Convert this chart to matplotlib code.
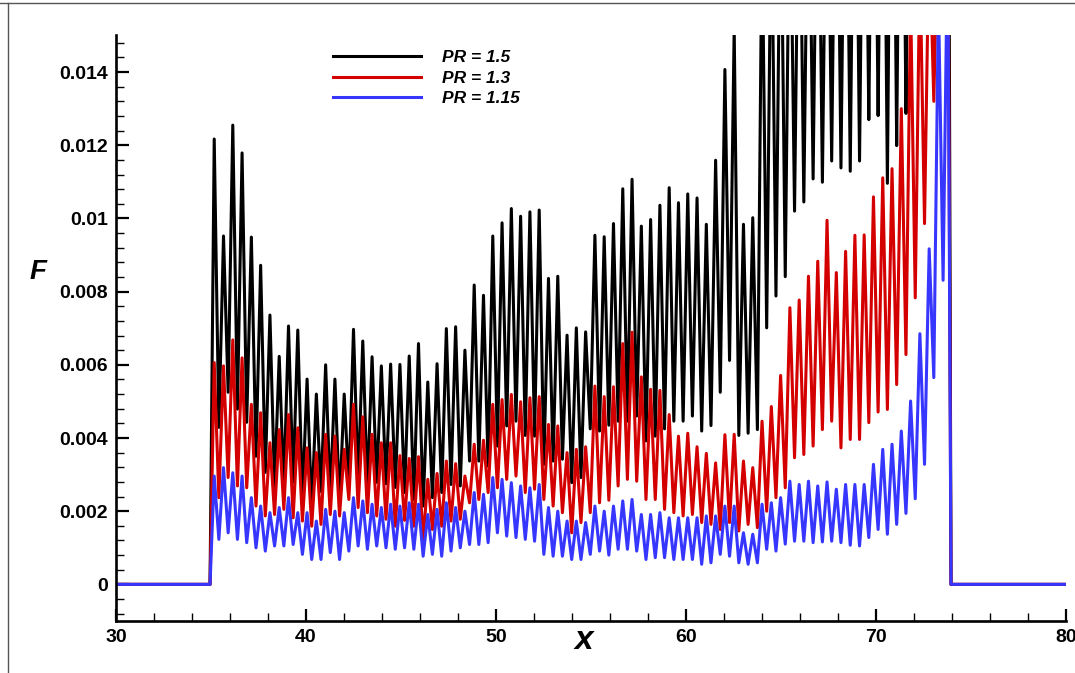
import numpy as np
import matplotlib
matplotlib.use("Agg")
import matplotlib.pyplot as plt
from matplotlib.lines import Line2D
from matplotlib.ticker import MultipleLocator, FuncFormatter

# values, in units of 1e-3
# the three curves oscillate in phase: one peak every ~0.489 in x,
# first peak near x = 35.17; troughs sit halfway between peaks
x_start = 34.95
x_end = 73.95
first_peak = 35.17
period = 0.4887

black_peaks = [12.17, 9.52, 12.55, 11.79, 9.49, 8.72, 7.36, 6.23, 7.06, 6.95,
               5.61, 5.20, 6.00, 5.61, 5.20, 6.97, 6.65, 6.22, 5.97, 6.02,
               6.01, 6.24, 6.58, 5.53, 6.03, 6.99, 7.04, 6.40, 8.18, 7.90,
               9.52, 9.88, 10.27, 10.06, 10.18, 10.23, 8.36, 8.42, 6.81, 7.01,
               6.90, 9.54, 9.50, 9.86,
               10.81, 11.07, 9.79, 9.97, 10.36, 10.84, 10.43, 10.67, 10.56, 9.84,
               11.59, 14.07, 15.2, 9.84, 10.02,
               18, 19, 20, 20, 21, 21, 22, 22, 23, 23,
               24, 24, 25, 25, 26, 26, 27, 27, 28, 28, 29]
black_troughs = [4.29, 5.25, 4.79, 4.43, 3.50, 3.06, 2.68, 2.65, 2.79, 2.32,
                 2.05, 2.54, 2.41, 2.24, 2.70, 2.79, 2.63, 2.79, 2.75, 2.65,
                 2.51, 2.32, 2.14, 2.37, 2.51, 2.73, 2.69, 3.37, 3.37, 3.23,
                 3.78, 4.33, 4.46, 4.07, 4.05, 3.28, 3.37, 3.42, 2.78, 2.92,
                 4.25, 4.19, 4.35,
                 4.46, 4.46, 4.60, 3.92, 4.05, 4.25, 4.46, 4.46, 4.60, 4.19,
                 4.34, 5.25, 6.12, 4.07, 4.13, 4.23, 7.01, 7.88, 8.41,
                 10.20, 10.45, 11.08, 10.99, 11.57, 11.38, 11.29, 11.57, 12.70, 12.81,
                 10.96, 11.99, 12.87,
                 16, 17, 18, 19]

red_peaks = [6.06, 5.97, 6.68, 6.19, 4.92, 4.69, 3.87, 4.23, 4.64, 4.28,
             3.73, 3.60, 4.10, 4.05, 3.69, 4.92, 4.58, 4.10, 3.87, 3.87,
             3.52, 3.44, 3.49, 2.87, 3.03, 3.37, 3.30, 2.96, 3.83, 3.94,
             4.92, 5.05, 5.19, 4.99, 5.10, 5.13, 4.37, 4.33, 3.60, 3.69,
             3.76, 5.42, 5.13, 5.40,
             6.58, 6.89, 5.67, 5.33, 5.30, 4.64, 4.05, 4.13, 3.76, 3.58,
             3.32, 4.09, 4.10, 3.37, 3.19, 4.46, 4.86, 5.71, 7.56,
             7.77, 8.42, 8.83, 9.95, 8.52, 9.10, 9.54, 9.55, 10.59, 11.11,
             11.36, 13.0,
             16, 17, 18, 19, 20]
red_troughs = [2.37, 2.92, 2.69, 2.64, 2.14, 1.87, 1.91, 2.05, 1.82, 1.73,
               1.59, 1.64, 1.91, 1.87, 2.32, 2.10, 1.96, 1.87, 1.78, 1.59,
               1.75, 1.59, 1.23, 1.50, 1.59, 1.73, 1.78, 2.23, 2.32, 2.51,
               2.64, 2.87, 2.96, 2.51, 2.60, 2.32, 2.14, 1.96, 1.41, 1.69,
               1.96, 2.23, 2.30,
               2.69, 2.87, 2.82, 2.32, 2.32, 2.05, 1.96, 1.87, 1.91, 1.69,
               1.64, 1.50, 1.69, 1.46, 1.64, 1.55, 2.00, 2.37, 2.64,
               3.46, 3.55, 3.78, 4.23, 4.46, 3.73, 3.96, 3.96, 4.42, 4.71,
               4.78, 5.46, 6.28, 7.83, 9.86, 13.2, 16]

blue_peaks = [2.96, 3.19, 3.05, 2.96, 2.37, 2.14, 1.96, 2.10, 2.37, 1.96,
              1.96, 1.73, 2.05, 2.00, 1.96, 2.37, 2.28, 2.19, 2.10, 2.19,
              2.14, 2.23, 2.19, 1.91, 2.05, 2.23, 2.10, 2.00, 2.51, 2.46,
              2.92, 2.87, 2.78, 2.69, 2.64, 2.73, 2.10, 2.00, 1.73, 1.73,
              1.69, 2.14, 2.00, 2.14,
              2.28, 2.32, 1.91, 1.91, 1.96, 1.82, 1.82, 1.82, 1.82, 1.87,
              1.87, 2.14, 2.14, 1.41, 1.37, 2.19, 2.23, 2.37, 2.82,
              2.73, 2.82, 2.69, 2.80, 2.60, 2.73, 2.73, 2.73, 3.28, 3.69,
              3.83, 4.19, 5.01, 6.85, 9.17, 16, 18]
blue_troughs = [1.23, 1.41, 1.23, 1.14, 1.00, 0.91, 1.05, 1.05, 1.09, 0.82,
                0.68, 0.68, 0.87, 0.68, 0.91, 1.05, 0.96, 1.05, 1.00, 0.96,
                1.00, 0.96, 0.77, 0.82, 0.77, 0.91, 1.00, 1.09, 1.09, 1.14,
                1.41, 1.32, 1.28, 1.23, 1.18, 0.82, 0.77, 0.77, 0.68, 0.68,
                0.82, 0.91, 0.80,
                0.96, 0.96, 0.91, 0.68, 0.73, 0.73, 0.68, 0.68, 0.68, 0.55,
                0.59, 0.82, 0.77, 0.59, 0.55, 0.59, 0.96, 0.91, 1.10,
                1.18, 1.18, 1.14, 1.16, 1.18, 1.14, 1.07, 1.05, 1.28, 1.50,
                1.37, 1.64, 1.94, 2.34, 3.28, 5.65, 8.31]

labels = ["PR = 1.5", "PR = 1.3", "PR = 1.15"]
colors = ["black", "#d40000", "#3636ff"]


def build(peaks, troughs):
    y = np.empty(len(peaks) + len(troughs))
    y[0::2] = peaks
    y[1::2] = troughs
    n = len(y)
    x = np.concatenate([[30, x_start], first_peak + 0.5 * period * np.arange(n), [x_end, 80]])
    y = np.concatenate([[0, 0], y, [0, 0]]) * 1e-3
    return x, y


series = [(black_peaks, black_troughs), (red_peaks, red_troughs), (blue_peaks, blue_troughs)]

fig = plt.figure(figsize=(10.75, 6.73), dpi=100)
ax = fig.add_axes([0.1079, 0.0773, 0.8837, 0.8700])

handles = []
for (pk, tr), lab, col in zip(series, labels, colors):
    x, y = build(pk, tr)
    h, = ax.plot(x, y, color=col, lw=2.2, label=lab)
    handles.append(h)

ax.set_xlim(30, 80)
ax.set_ylim(-0.001, 0.015)
ax.set_xticks(np.arange(30, 81, 10))
ax.set_yticks(np.arange(0, 0.0141, 0.002))
ax.xaxis.set_minor_locator(MultipleLocator(2))
ax.yaxis.set_minor_locator(MultipleLocator(0.0004))
ax.yaxis.set_major_formatter(FuncFormatter(lambda v, p: "%g" % round(v, 6)))
ax.xaxis.set_major_formatter(FuncFormatter(lambda v, p: "%g" % v))

for s in ["top", "right"]:
    ax.spines[s].set_visible(False)
for s in ["left", "bottom"]:
    ax.spines[s].set_linewidth(1.9)

ax.tick_params(which="major", direction="in", length=9, width=1.6, pad=6)
ax.tick_params(which="minor", direction="in", length=5.5, width=1.0)
for lab in ax.get_xticklabels() + ax.get_yticklabels():
    lab.set_fontfamily("Liberation Sans")
    lab.set_fontweight("bold")
    lab.set_fontsize(14)

ax.set_xlabel("x", family="Liberation Sans", weight="bold", style="italic", size=24)
ax.xaxis.label.set_va("center")
ax.xaxis.set_label_coords((54.6 - 30) / 50, -0.033)
ax.set_ylabel("F", family="Liberation Sans", weight="bold", style="italic", size=20, rotation=0)
ax.yaxis.label.set_va("center")
ax.yaxis.set_label_coords(-0.082, 0.596)

ax.legend(handles=handles, loc="upper left", bbox_to_anchor=(0.228, 0.975),
          frameon=False, handlelength=5.1, handletextpad=1.2, labelspacing=0.3,
          borderaxespad=0, borderpad=0,
          prop=dict(family="Liberation Sans", weight="bold", style="italic", size=12.5))

# thin frame lines at the top and left edges of the picture
fig.add_artist(Line2D([0, 1], [1 - 3 / 673, 1 - 3 / 673], color="#555555", lw=1.0,
                      transform=fig.transFigure))
fig.add_artist(Line2D([8 / 1075, 8 / 1075], [0, 1 - 3 / 673], color="#555555", lw=1.0,
                      transform=fig.transFigure))

fig.savefig("out.png", dpi=100)
